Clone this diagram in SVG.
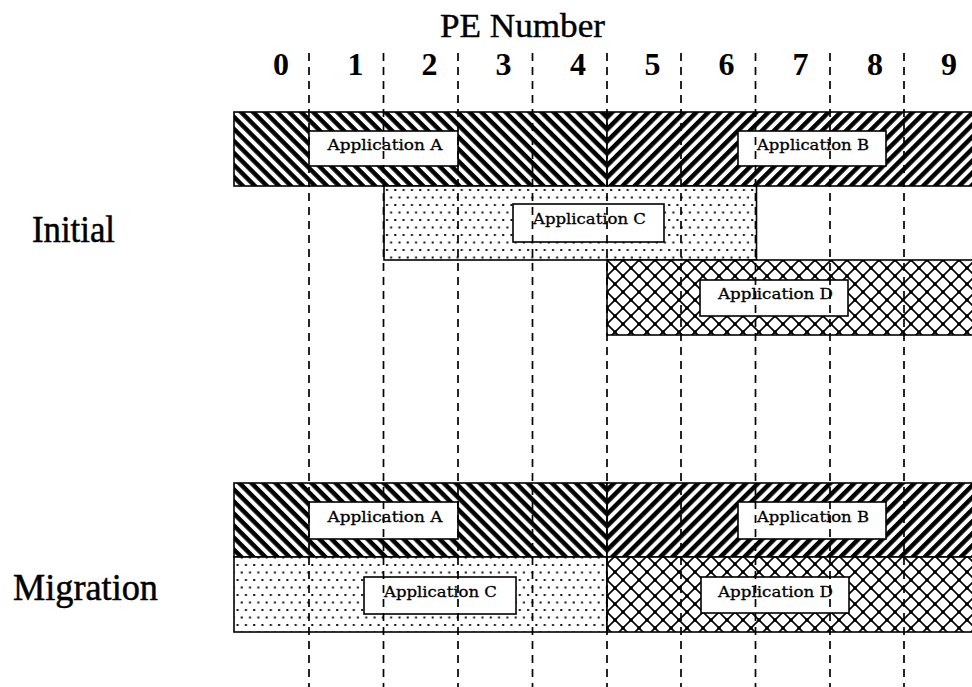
<svg xmlns="http://www.w3.org/2000/svg" width="972" height="687" viewBox="0 0 972 687">
<style>
.title{font-family:"Liberation Serif","Times New Roman",serif;font-size:33px;fill:#000;stroke:#000;stroke-width:0.4}
.digit{font-family:"Liberation Serif","Times New Roman",serif;font-size:32px;font-weight:bold;fill:#000;text-anchor:middle}
.side{font-family:"Liberation Serif","Times New Roman",serif;font-size:37px;fill:#000;stroke:#000;stroke-width:0.5}
.bar{stroke:#000;stroke-width:1.6}
.lbox{fill:#fff;stroke:#000;stroke-width:1.6}
.ltext{font-family:"DejaVu Serif","Liberation Serif",serif;font-size:15px;fill:#000;stroke:#000;stroke-width:0.3;text-anchor:middle}
.grid line{stroke:#000;stroke-width:1.7;stroke-dasharray:8 6}
</style>
<defs>
<pattern id="hatchA" width="8.5" height="8.5" patternUnits="userSpaceOnUse" patternTransform="rotate(45)">
<rect width="8.5" height="8.5" fill="#fff"/>
<rect width="8.5" height="4.5" fill="#000"/>
</pattern>
<pattern id="hatchB" width="8.5" height="8.5" patternUnits="userSpaceOnUse" patternTransform="rotate(-45)">
<rect width="8.5" height="8.5" fill="#fff"/>
<rect width="8.5" height="4.5" fill="#000"/>
</pattern>
<pattern id="dots" x="384" y="186" width="8.3" height="15" patternUnits="userSpaceOnUse">
<rect width="8.3" height="15" fill="#fff"/>
<rect x="2" y="3" width="2" height="2" fill="#111"/>
<rect x="6.15" y="10.5" width="2" height="2" fill="#111"/>
</pattern>
<pattern id="cross" x="607" y="260" width="16" height="16" patternUnits="userSpaceOnUse">
<rect width="16" height="16" fill="#fff"/>
<path d="M0,0L16,16M16,0L0,16" stroke="#000" stroke-width="1.6"/>
<rect x="6.3" y="6.3" width="3.4" height="3.4" fill="#000"/>
<rect x="-1.7" y="-1.7" width="3.4" height="3.4" fill="#000"/>
<rect x="14.3" y="-1.7" width="3.4" height="3.4" fill="#000"/>
<rect x="-1.7" y="14.3" width="3.4" height="3.4" fill="#000"/>
<rect x="14.3" y="14.3" width="3.4" height="3.4" fill="#000"/>
</pattern>
</defs>
<rect width="972" height="687" fill="#fff"/>

<g id="axis">
<text class="title" x="440" y="36.5" textLength="165" lengthAdjust="spacingAndGlyphs">PE Number</text>
<text class="digit" x="281" y="75">0</text>
<text class="digit" x="355.5" y="75">1</text>
<text class="digit" x="429.5" y="75">2</text>
<text class="digit" x="503.5" y="75">3</text>
<text class="digit" x="578" y="75">4</text>
<text class="digit" x="652.5" y="75">5</text>
<text class="digit" x="726.5" y="75">6</text>
<text class="digit" x="800.5" y="75">7</text>
<text class="digit" x="875" y="75">8</text>
<text class="digit" x="949" y="75">9</text>
</g>

<g id="label-initial"><text class="side" x="32" y="242" textLength="83" lengthAdjust="spacingAndGlyphs">Initial</text></g>
<g id="label-migration"><text class="side" x="13" y="600" textLength="145" lengthAdjust="spacingAndGlyphs">Migration</text></g>

<g id="initial-A">
<rect class="bar" x="234" y="112" width="373" height="74" fill="url(#hatchA)"/>
<rect class="lbox" x="309" y="131" width="149" height="35"/>
<text class="ltext" x="385" y="150" textLength="115" lengthAdjust="spacingAndGlyphs">Application A</text>
</g>
<g id="initial-B">
<rect class="bar" x="607" y="112" width="375" height="74" fill="url(#hatchB)"/>
<rect class="lbox" x="738" y="131" width="148" height="35"/>
<text class="ltext" x="813" y="150" textLength="112" lengthAdjust="spacingAndGlyphs">Application B</text>
</g>
<g id="initial-C">
<rect class="bar" x="384" y="186" width="372.5" height="74" fill="url(#dots)"/>
<rect class="lbox" x="513" y="204" width="151" height="38"/>
<text class="ltext" x="589.5" y="223.5" textLength="113" lengthAdjust="spacingAndGlyphs">Application C</text>
</g>
<g id="initial-D">
<rect class="bar" x="607" y="260" width="375" height="75" fill="url(#cross)"/>
<rect class="lbox" x="700" y="280" width="148" height="36"/>
<text class="ltext" x="775.5" y="299" textLength="115" lengthAdjust="spacingAndGlyphs">Application D</text>
</g>

<g id="migration-A">
<rect class="bar" x="234" y="483" width="373" height="74" fill="url(#hatchA)"/>
<rect class="lbox" x="309" y="502" width="149" height="37"/>
<text class="ltext" x="385" y="521.5" textLength="115" lengthAdjust="spacingAndGlyphs">Application A</text>
</g>
<g id="migration-B">
<rect class="bar" x="607" y="483" width="375" height="74" fill="url(#hatchB)"/>
<rect class="lbox" x="738" y="502" width="148" height="37"/>
<text class="ltext" x="813" y="521.5" textLength="112" lengthAdjust="spacingAndGlyphs">Application B</text>
</g>
<g id="migration-C">
<rect class="bar" x="234" y="557" width="373" height="75" fill="url(#dots)"/>
<rect class="lbox" x="364" y="577" width="152" height="37"/>
<text class="ltext" x="440.5" y="596.5" textLength="113" lengthAdjust="spacingAndGlyphs">Application C</text>
</g>
<g id="migration-D">
<rect class="bar" x="607" y="557" width="375" height="75" fill="url(#cross)"/>
<rect class="lbox" x="701" y="577" width="148" height="36"/>
<text class="ltext" x="775.5" y="596.5" textLength="115" lengthAdjust="spacingAndGlyphs">Application D</text>
</g>

<g id="connectors" class="grid">
<line x1="309" y1="53" x2="309" y2="687"/>
<line x1="383.5" y1="53" x2="383.5" y2="687"/>
<line x1="458" y1="53" x2="458" y2="687"/>
<line x1="532.5" y1="53" x2="532.5" y2="687"/>
<line x1="607" y1="53" x2="607" y2="687"/>
<line x1="681" y1="53" x2="681" y2="687"/>
<line x1="755.5" y1="53" x2="755.5" y2="687"/>
<line x1="830" y1="53" x2="830" y2="687"/>
<line x1="904" y1="53" x2="904" y2="687"/>
</g>
</svg>
